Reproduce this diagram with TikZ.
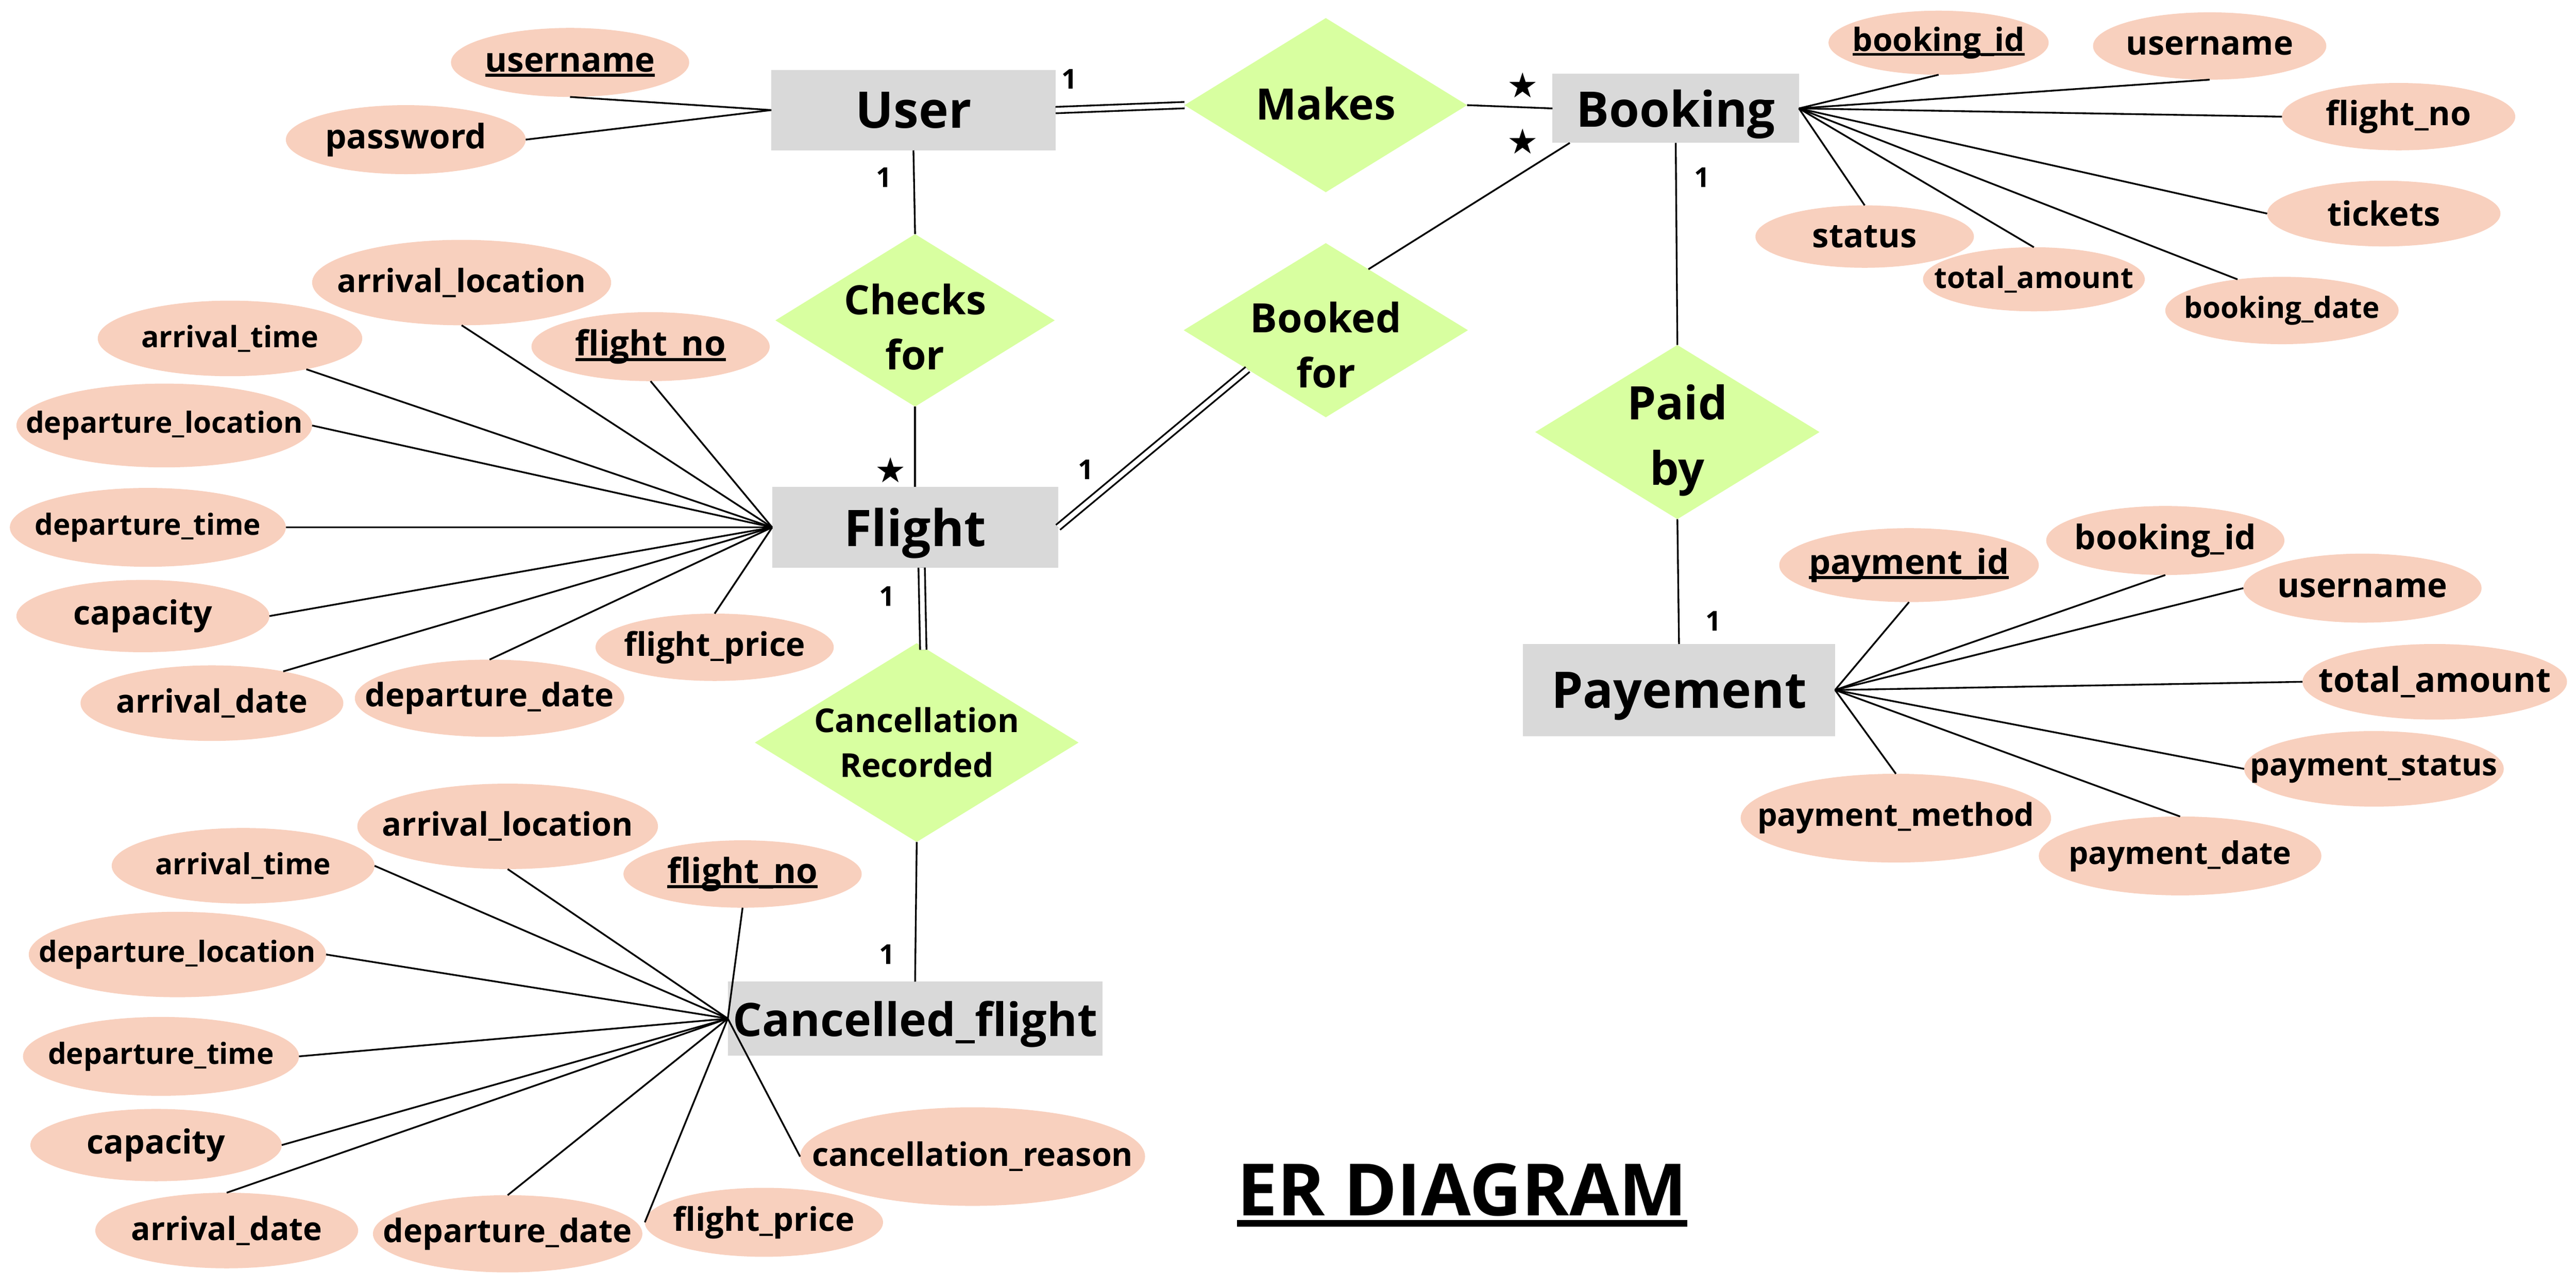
\documentclass[tikz,border=0pt]{standalone}
\usepackage{fontspec}
\setmainfont{Open Sans}
\newfontfamily\starfont{DejaVu Sans}
\usetikzlibrary{shapes.geometric,calc}
\definecolor{entgray}{HTML}{D9D9D9}
\definecolor{relgreen}{HTML}{D8FFA0}
\definecolor{attrpeach}{HTML}{F8D0BE}
\newcommand\keyattr[1]{\setbox0=\hbox{#1}\rlap{\smash{\rule[-0.15em]{\wd0}{0.09em}}}\box0}
\begin{document}
\begin{tikzpicture}[x=0.02cm,y=-0.02cm]
\useasboundingbox (0,0) rectangle (1568,784);
\begin{scope}[semithick,
              fsz/.style 2 args={font=\bfseries\fontsize{#1}{#2}\selectfont},
              dims/.style 2 args={minimum width=#1*0.02cm,minimum height=#2*0.02cm},
              entity/.style={rectangle,fill=entgray,inner sep=0pt,outer sep=0pt,text depth=0pt,fsz={17.5}{20}},
              relation/.style={diamond,fill=relgreen,inner sep=0pt,outer sep=0pt},
              reltext/.style={align=center,inner sep=0pt,fsz={14}{19}},
              attrib/.style={ellipse,fill=attrpeach,inner sep=0pt,outer sep=0pt,fsz={11.5}{13},
                             execute at begin node={\hbox to 0pt\bgroup\hss},
                             execute at end node={\hss\egroup}},
              card/.style={inner sep=0pt,fsz={9.5}{11}},
              cardstar/.style={inner sep=0pt,font=\starfont\fontsize{12}{13}\selectfont},
              twin/.style={double,double distance=1.6pt}]
    % entities
    \node [entity,dims={173}{49}] (1) at (556,67) {User};
    \node [entity,dims={150}{42},fsz={17}{20}] (2) at (1020,66) {Booking};
    \node [entity,dims={174}{49}] (3) at (557,321) {Flight};
    \node [entity,dims={190}{56}] (4) at (1022,420) {Payement};
    \node [entity,dims={228}{45},fsz={16}{19}] (5) at (557,620) {Cancelled\_flight};
    % relations
    \node [relation,dims={172}{106},label={[reltext,name=6t,fsz={15}{19},yshift=1*0.02cm]center:Makes}] (6) at (807,64) {};
    \node [relation,dims={170}{105},label={[reltext,name=7t,yshift=-4*0.02cm]center:Checks\\for}] (7) at (557,195) {};
    \node [relation,dims={173}{106},label={[reltext,name=8t,yshift=-9*0.02cm]center:Booked\\for}] (8) at (807,201) {};
    \node [relation,dims={173}{106},label={[reltext,name=9t,fsz={16}{22.8},yshift=-5*0.02cm]center:Paid\\by}] (9) at (1021,263) {};
    \node [relation,dims={197}{121},label={[reltext,name=10t,fsz={11.4}{15.6}]center:Cancellation\\Recorded}] (10) at (558,452) {};
    % attributes of User
    \node [attrib,dims={145}{42},fsz={11.7}{13}] (11) at (347,38) {\keyattr{username}};
    \node [attrib,dims={146}{42},fsz={11.7}{13}] (12) at (247,85) {password};
    % attributes of Booking
    \node [attrib,dims={134}{39},fsz={11.1}{13}] (13) at (1180,26) {\keyattr{booking\_id}};
    \node [attrib,dims={142}{41}] (14) at (1345,28) {username};
    \node [attrib,dims={142}{41},fsz={11.6}{13}] (15) at (1460,71) {flight\_no};
    \node [attrib,dims={142}{40},fsz={11.6}{13}] (16) at (1451,130) {tickets};
    \node [attrib,dims={142}{41},fsz={10.1}{12}] (17) at (1389,189) {booking\_date};
    \node [attrib,dims={135}{39},fsz={10.2}{12}] (18) at (1238,170) {total\_amount};
    \node [attrib,dims={133}{38},fsz={11.6}{13}] (19) at (1135,144) {status};
    % attributes of Flight
    \node [attrib,dims={182}{52},fsz={11.1}{13}] (20) at (281,172) {arrival\_location};
    \node [attrib,dims={161}{46},fsz={10.2}{12}] (21) at (140,206) {arrival\_time};
    \node [attrib,dims={145}{42},fsz={12}{14}] (22) at (396,211) {\keyattr{flight\_no}};
    \node [attrib,dims={180}{51},fsz={10.1}{12}] (23) at (100,259) {departure\_location};
    \node [attrib,dims={168}{48},fsz={10.1}{12}] (24) at (90,321) {departure\_time};
    \node [attrib,dims={154}{44}] (25) at (87,375) {capacity};
    \node [attrib,dims={160}{46},fsz={11.1}{13}] (26) at (129,428) {arrival\_date};
    \node [attrib,dims={164}{47},fsz={11.2}{13}] (27) at (298,425) {departure\_date};
    \node [attrib,dims={145}{41},fsz={11.3}{13}] (28) at (435,394) {flight\_price};
    % attributes of Cancelled_flight
    \node [attrib,dims={183}{52},fsz={11.2}{13}] (29) at (309,503) {arrival\_location};
    \node [attrib,dims={160}{46},fsz={10.1}{12}] (30) at (148,527) {arrival\_time};
    \node [attrib,dims={145}{41},fsz={12}{14}] (31) at (452,532) {\keyattr{flight\_no}};
    \node [attrib,dims={181}{52},fsz={10.1}{12}] (32) at (108,581) {departure\_location};
    \node [attrib,dims={168}{48},fsz={10.1}{12}] (33) at (98,643) {departure\_time};
    \node [attrib,dims={153}{44}] (34) at (95,697) {capacity};
    \node [attrib,dims={160}{46},fsz={11.1}{13}] (35) at (138,749) {arrival\_date};
    \node [attrib,dims={164}{47},fsz={11.2}{13}] (36) at (309,751) {departure\_date};
    \node [attrib,dims={145}{42},fsz={11.3}{13}] (37) at (465,744) {flight\_price};
    \node [attrib,dims={210}{60},fsz={11.2}{13}] (38) at (592,704) {cancellation\_reason};
    % attributes of Payement
    \node [attrib,dims={158}{45},fsz={11.9}{14}] (39) at (1162,344) {\keyattr{payment\_id}};
    \node [attrib,dims={145}{42},fsz={11.7}{13}] (40) at (1318,329) {booking\_id};
    \node [attrib,dims={145}{42},fsz={11.7}{13}] (41) at (1438,358) {username};
    \node [attrib,dims={161}{46},fsz={11.9}{14}] (42) at (1482,415) {total\_amount};
    \node [attrib,dims={158}{46},fsz={10.7}{12}] (43) at (1445,468) {payment\_status};
    \node [attrib,dims={172}{48},fsz={10.8}{12}] (44) at (1327,521) {payment\_date};
    \node [attrib,dims={189}{54},fsz={10.9}{12}] (45) at (1154,498) {payment\_method};
    % cardinalities
    \node [card] (46) at (651,48) {1};
    \node [cardstar] (47) at (927,52) {★};
    \node [cardstar] (48) at (927,86) {★};
    \node [card] (49) at (538,108) {1};
    \node [cardstar] (50) at (542,286) {★};
    \node [card] (51) at (661,286) {1};
    \node [card] (52) at (1036,108) {1};
    \node [card] (53) at (540,363) {1};
    \node [card] (54) at (540,581) {1};
    \node [card] (55) at (1043,378) {1};
    \node [inner sep=0pt,anchor=base,fsz={25}{30}] (56) at (890,740) {\keyattr{ER DIAGRAM}};
    % connectors
    \path (11.south) edge (1.west);
    \path (12.east) edge (1.west);
    \path (1.east) edge[twin] (6.west);
    \path (6.east) edge (2.west);
    \path (1.south) edge (7.north);
    \path (7.south) edge (3.north);
    \path ($(2.south west)!0.07!(2.south east)$) edge ($(8.north)!0.3!(8.east)$);
    \path (3.east) edge[twin] ($(8.west)!0.45!(8.south)$);
    \path (2.south) edge (9.north);
    \path (9.south) edge (4.north);
    \path ($(3.south)+(4,0)$) edge[twin] ($(10.north)+(4,4)$);
    \path (10.south) edge (5.north);
    \path (13.south) edge (2.east);
    \path (14.south) edge (2.east);
    \path (15.west) edge (2.east);
    \path (16.west) edge (2.east);
    \path (17.145) edge (2.east);
    \path (18.north) edge (2.east);
    \path (19.north) edge (2.east);
    \path (20.south) edge (3.west);
    \path (21.-22) edge (3.west);
    \path (22.south) edge (3.west);
    \path (23.east) edge (3.west);
    \path (24.east) edge (3.west);
    \path (25.east) edge (3.west);
    \path (26.24) edge (3.west);
    \path (27.north) edge (3.west);
    \path (28.north) edge (3.west);
    \path (29.south) edge (5.west);
    \path (30.east) edge (5.west);
    \path (31.south) edge (5.west);
    \path (32.east) edge (5.west);
    \path (33.east) edge (5.west);
    \path (34.east) edge (5.west);
    \path (35.north) edge (5.west);
    \path (36.north) edge (5.west);
    \path (37.west) edge (5.west);
    \path (38.west) edge (5.west);
    \path (39.south) edge (4.east);
    \path (40.south) edge (4.east);
    \path (41.west) edge (4.east);
    \path (42.west) edge (4.east);
    \path (43.west) edge (4.east);
    \path (44.north) edge (4.east);
    \path (45.north) edge (4.east);
\end{scope}
\end{tikzpicture}
\end{document}
